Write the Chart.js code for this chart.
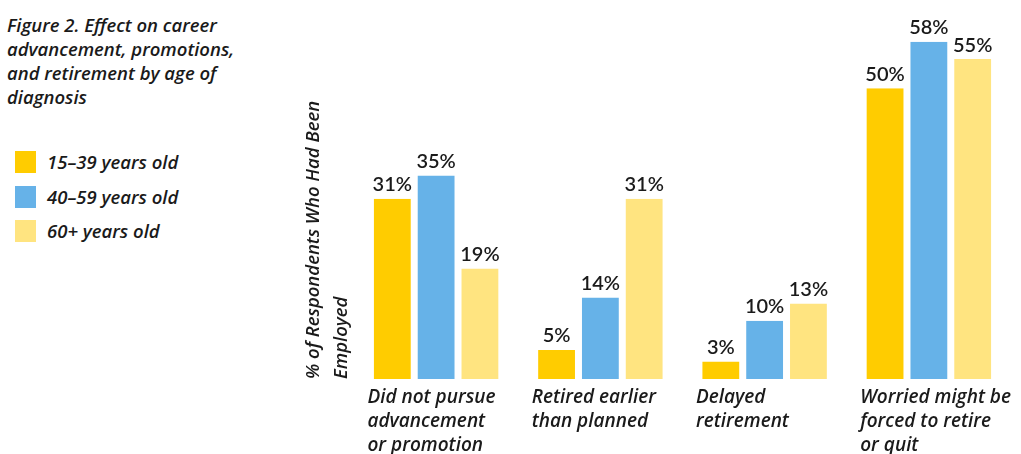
<!DOCTYPE html>
<html>
<head>
<meta charset="utf-8">
<script src="https://cdn.jsdelivr.net/npm/chart.js@4/dist/chart.umd.min.js"></script>
<style>
  html, body { margin: 0; padding: 0; background: #fff; }
  body { width: 1021px; height: 454px; position: relative; overflow: hidden; font-family: "Open Sans", sans-serif; color: #1a1a1a; }
  #title { position: absolute; left: 7px; top: 13px; font-style: italic; font-weight: 600; font-size: 18.5px; line-height: 24px; }
  #legend { position: absolute; left: 15px; top: 151px; }
  .item { height: 34.5px; display: flex; align-items: flex-start; font-style: italic; font-weight: 600; font-size: 18.5px; }
  .box { width: 21px; height: 22px; margin-right: 11px; }
  .item span { line-height: 22px; }
  #wrap { position: absolute; left: 0; top: 0; width: 1021px; height: 454px; }
</style>
</head>
<body>
<div id="title">Figure 2. Effect on career<br>advancement, promotions,<br>and retirement by age of<br>diagnosis</div>
<div id="legend"></div>
<div id="wrap"><canvas id="myChart"></canvas></div>
<script>
var categories = [
  ['Did not pursue', 'advancement', 'or promotion'],
  ['Retired earlier', 'than planned'],
  ['Delayed', 'retirement'],
  ['Worried might be', 'forced to retire', 'or quit']
];
var seriesNames = ['15\u201339 years old', '40\u201359 years old', '60+ years old'];
var age15to39 = [31, 5, 3, 50];
var age40to59 = [35, 14, 10, 58];
var age60plus = [19, 31, 13, 55];
var colors = ['#FFCC00', '#66B2E8', '#FFE480'];
var yTitle = ['% of Respondents Who Had Been', 'Employed'];

var textColor = '#1a1a1a';

// value labels above each bar
var valueLabels = {
  id: 'valueLabels',
  afterDatasetsDraw: function(chart) {
    var ctx = chart.ctx;
    ctx.save();
    ctx.fillStyle = textColor;
    ctx.font = '600 20px Lato';
    ctx.textAlign = 'center';
    ctx.textBaseline = 'bottom';
    chart.data.datasets.forEach(function(ds, i) {
      chart.getDatasetMeta(i).data.forEach(function(bar, j) {
        ctx.fillText(ds.data[j] + '%', bar.x, bar.y - 4);
      });
    });
    ctx.restore();
  }
};

// category labels, left aligned under each group
var categoryLabels = {
  id: 'categoryLabels',
  afterDraw: function(chart) {
    var ctx = chart.ctx;
    var first = chart.getDatasetMeta(0).data;
    var bottom = chart.chartArea.bottom;
    ctx.save();
    ctx.fillStyle = textColor;
    ctx.font = 'italic 600 19px "Open Sans"';
    ctx.textAlign = 'left';
    ctx.textBaseline = 'middle';
    categories.forEach(function(lines, i) {
      var left = first[i].x - first[i].width / 2 - 3;
      lines.forEach(function(line, k) {
        ctx.fillText(line, left, bottom + 19 + k * 24);
      });
    });
    ctx.restore();
  }
};

var ctx = document.getElementById('myChart').getContext('2d');

var myChart = new Chart(ctx, {
  type: 'bar',
  data: {
    labels: categories,
    datasets: [
      { label: seriesNames[0], data: age15to39, backgroundColor: colors[0] },
      { label: seriesNames[1], data: age40to59, backgroundColor: colors[1] },
      { label: seriesNames[2], data: age60plus, backgroundColor: colors[2] }
    ].map(function(d) {
      d.borderColor = '#ffffff';
      d.borderWidth = { left: 3.5, right: 3.5, top: 0, bottom: 0 };
      d.categoryPercentage = 0.8;
      d.barPercentage = 1.0;
      return d;
    })
  },
  options: {
    responsive: true,
    maintainAspectRatio: false,
    animation: false,
    layout: { padding: { left: 300, right: 10, top: 30, bottom: 75 } },
    plugins: {
      legend: { display: false },
      tooltip: { enabled: false }
    },
    scales: {
      x: { display: false },
      y: {
        min: 0,
        max: 60,
        grid: { display: false },
        border: { display: false },
        ticks: { display: false },
        title: {
          display: true,
          text: yTitle,
          align: 'start',
          color: textColor,
          font: { family: 'Open Sans', size: 18.5, style: 'italic', weight: 600, lineHeight: 1.5 },
          padding: { top: 0, bottom: 0 }
        },
        afterFit: function(scale) { scale.width = 54; }
      }
    }
  },
  plugins: [valueLabels, categoryLabels]
});

// legend built from the datasets
var legend = document.getElementById('legend');
myChart.data.datasets.forEach(function(ds) {
  var row = document.createElement('div');
  row.className = 'item';
  row.innerHTML = '<div class="box" style="background:' + ds.backgroundColor + '"></div><span>' + ds.label + '</span>';
  legend.appendChild(row);
});
</script>
</body>
</html>
